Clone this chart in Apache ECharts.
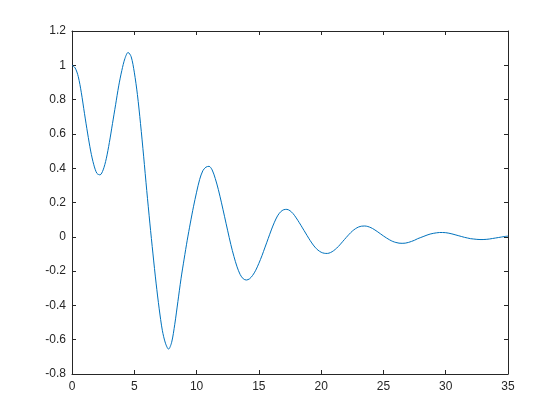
<!DOCTYPE html>
<html>
<head>
<meta charset="utf-8">
<script src="https://cdn.jsdelivr.net/npm/echarts@6/dist/echarts.min.js"></script>
<style>html,body{margin:0;padding:0;background:#fff}#c{width:560px;height:420px}</style>
</head>
<body>
<div id="c"></div>
<script>
const xValues = [
  0,0.25,0.5,0.75, 1,1.25,1.5,1.75, 2,2.25,2.5,2.75, 3,3.25,3.5,3.75,
  4,4.25,4.5,4.75, 5,5.25,5.5,5.75, 6,6.25,6.5,6.75, 7,7.25,7.5,7.75,
  8,8.25,8.5,8.75, 9,9.25,9.5,9.75, 10,10.25,10.5,10.75, 11,11.25,11.5,11.75,
  12,12.25,12.5,12.75, 13,13.25,13.5,13.75, 14,14.25,14.5,14.75, 15,15.25,15.5,15.75,
  16,16.25,16.5,16.75, 17,17.25,17.5,17.75, 18,18.25,18.5,18.75, 19,19.25,19.5,19.75,
  20,20.25,20.5,20.75, 21,21.25,21.5,21.75, 22,22.25,22.5,22.75, 23,23.25,23.5,23.75,
  24,24.25,24.5,24.75, 25,25.25,25.5,25.75, 26,26.25,26.5,26.75, 27,27.25,27.5,27.75,
  28,28.25,28.5,28.75, 29,29.25,29.5,29.75, 30,30.25,30.5,30.75, 31,31.25,31.5,31.75,
  32,32.25,32.5,32.75, 33,33.25,33.5,33.75, 34,34.25,34.5,34.75, 35
];
const yValues = [
  1.0,0.985,0.935,0.84, 0.72,0.605,0.5,0.42, 0.37,0.361,0.39,0.455, 0.55,0.66,0.77,0.88,
  0.97,1.04,1.075,1.05, 0.96,0.83,0.66,0.47, 0.27,0.08,-0.1,-0.27, -0.42,-0.545,-0.62,-0.655,
  -0.615,-0.51,-0.378,-0.245, -0.13,-0.02,0.08,0.175, 0.26,0.335,0.385,0.406, 0.411,0.39,0.34,0.275,
  0.198,0.117,0.035,-0.045, -0.115,-0.175,-0.22,-0.245, -0.252,-0.245,-0.225,-0.195, -0.155,-0.11,-0.06,-0.01,
  0.04,0.085,0.122,0.146, 0.158,0.16,0.152,0.135, 0.11,0.082,0.052,0.022, -0.008,-0.036,-0.06,-0.078,
  -0.09,-0.096,-0.097,-0.092, -0.081,-0.066,-0.047,-0.026, -0.005,0.015,0.033,0.047, 0.057,0.062,0.063,0.06,
  0.053,0.043,0.031,0.018, 0.005,-0.007,-0.018,-0.027, -0.033,-0.037,-0.038,-0.037, -0.033,-0.027,-0.02,-0.011,
  -0.004,0.003,0.01,0.016, 0.02,0.023,0.025,0.025, 0.024,0.021,0.017,0.012, 0.007,0.002,-0.003,-0.007,
  -0.011,-0.013,-0.015,-0.016, -0.016,-0.015,-0.013,-0.01, -0.007,-0.004,-0.001,0.002, 0.004
];
const xTicks = {min: 0, max: 35, step: 5};
const yTicks = {min: -0.8, max: 1.2, step: 0.2};

const data = xValues.map((x, i) => [x, yValues[i]]);
const axisColor = '#262626';
const font = {fontFamily: 'Liberation Sans, Arial, sans-serif', fontSize: 12, color: axisColor};

function xa(pos, showLabel) {
  return {
    type: 'value', position: pos, min: xTicks.min, max: xTicks.max, interval: xTicks.step,
    axisLine: {show: true, onZero: false, lineStyle: {color: axisColor, width: 1}},
    axisTick: {show: true, inside: true, length: 4, lineStyle: {color: axisColor}},
    axisLabel: Object.assign({show: showLabel, margin: 7}, font),
    splitLine: {show: false}
  };
}
function ya(pos, showLabel) {
  return {
    type: 'value', position: pos, min: yTicks.min, max: yTicks.max, interval: yTicks.step,
    axisLine: {show: true, onZero: false, lineStyle: {color: axisColor, width: 1}},
    axisTick: {show: true, inside: true, length: 4, lineStyle: {color: axisColor}},
    axisLabel: Object.assign({show: showLabel, margin: 6,
      formatter: v => String(Math.round(v * 10) / 10)}, font),
    splitLine: {show: false}
  };
}

const chart = echarts.init(document.getElementById('c'), null, {renderer: 'canvas'});
chart.setOption({
  animation: false,
  backgroundColor: '#ffffff',
  grid: {left: 72, right: 52, top: 31, bottom: 46, containLabel: false},
  xAxis: [xa('bottom', true), xa('top', false)],
  yAxis: [ya('left', true), ya('right', false)],
  series: [{
    type: 'line', data: data, xAxisIndex: 0, yAxisIndex: 0,
    smooth: 0.3, showSymbol: false, symbol: 'none',
    lineStyle: {color: '#0072BD', width: 1}
  }]
});
</script>
</body>
</html>
